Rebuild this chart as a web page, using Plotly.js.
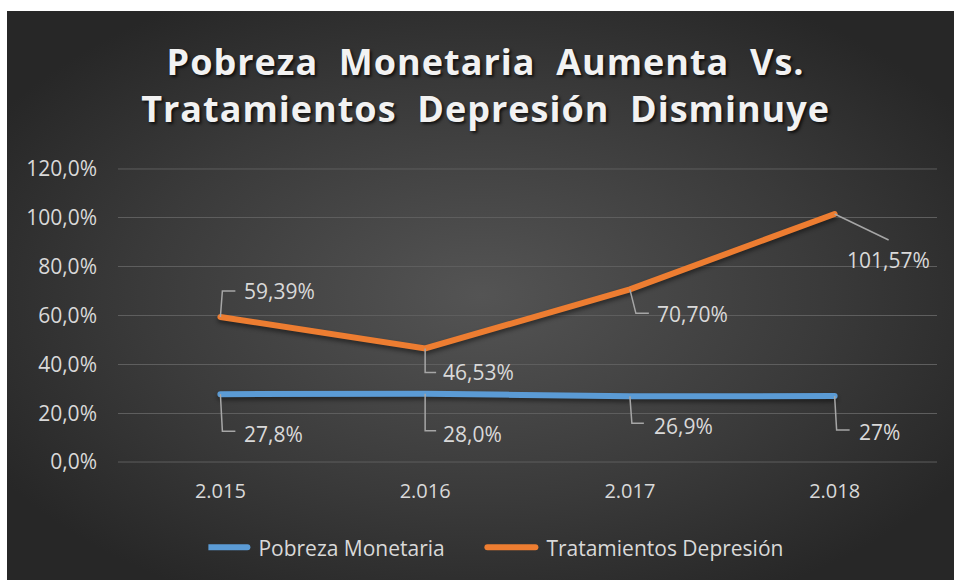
<!DOCTYPE html>
<html>
<head>
<meta charset="utf-8">
<script src="https://cdn.plot.ly/plotly-3.0.1.min.js"></script>
<style>
  html, body { margin: 0; padding: 0; background: #ffffff; width: 954px; height: 580px; overflow: hidden; }
  #bg { position: absolute; left: 7px; top: 11px; width: 947px; height: 569px;
        background: radial-gradient(ellipse 60% 60% at 50% 50%, #545454 0%, #3a3a3a 60%, #272727 100%); }
  #chart { position: absolute; left: 0; top: 0; width: 954px; height: 580px; }
  .gtitle { letter-spacing: 1px; }
  .scatterlayer .js-line { stroke-linecap: round; filter: drop-shadow(0px 3px 2px rgba(0,0,0,0.45)); }
  .legend .legendlines path { d: path("M-9,0H39"); stroke-linecap: round; }
</style>
</head>
<body>
<div id="bg"></div>
<div id="chart"></div>
<script>
// ---- data ----
const years = ['2.015', '2.016', '2.017', '2.018'];
const pobreza = [27.8, 28.0, 26.9, 27];
const tratamientos = [59.39, 46.53, 70.70, 101.57];
const pobrezaLabels = ['27,8%', '28,0%', '26,9%', '27%'];
const tratamientosLabels = ['59,39%', '46,53%', '70,70%', '101,57%'];
const seriesNames = ['Pobreza Monetaria', 'Tratamientos Depresión'];
const yTicks = [0, 20, 40, 60, 80, 100, 120];
const yTickLabels = ['0,0%', '20,0%', '40,0%', '60,0%', '80,0%', '100,0%', '120,0%'];

// ---- label placement (pixel offsets from each point) ----
const tratPlace = [
  {path: 'M0,0 L2,26 L15,26', xs: 22, ys: 26, anchor: 'left'},
  {path: 'M0,0 L0,-24 L11,-24', xs: 16, ys: -24, anchor: 'left'},
  {path: 'M0,0 L6,-24 L19,-24', xs: 25, ys: -25, anchor: 'left'},
  {path: 'M0,0 L54,-26', xs: 54, ys: -46, anchor: 'center'}
];
const pobPlace = [
  {path: 'M0,0 L2,-37 L15,-37', xs: 22, ys: -40, anchor: 'left'},
  {path: 'M0,0 L0,-37 L11,-37', xs: 16, ys: -40, anchor: 'left'},
  {path: 'M0,0 L2,-27 L14,-27', xs: 22, ys: -30, anchor: 'left'},
  {path: 'M0,0 L2,-34 L15,-34', xs: 22, ys: -36, anchor: 'left'}
];

const FONT = 'Open Sans, Noto Sans, sans-serif';
const TXT = '#d9d9d9';
const GRID = '#5e5e5e';

const traces = [
  {x: years, y: pobreza, name: seriesNames[0], type: 'scatter', mode: 'lines',
   line: {color: '#5b9bd5', width: 6}, hoverinfo: 'none'},
  {x: years, y: tratamientos, name: seriesNames[1], type: 'scatter', mode: 'lines',
   line: {color: '#ed7d31', width: 6}, hoverinfo: 'none'}
];

const annotations = [];
const shapes = [];
// edge gridlines (Plotly skips grid lines at the range ends)
[yTicks[0], yTicks[yTicks.length - 1]].forEach(v => {
  shapes.push({type: 'line', xref: 'paper', yref: 'y', x0: 0, x1: 1, y0: v, y1: v,
    line: {color: GRID, width: 1}, layer: 'below'});
});
function addLabels(vals, labels, place) {
  vals.forEach((v, i) => {
    const p = place[i];
    shapes.push({type: 'path', xref: 'x', yref: 'y', xsizemode: 'pixel', ysizemode: 'pixel',
      xanchor: i, yanchor: v, path: p.path, line: {color: '#a6a6a6', width: 1.5}, layer: 'above'});
    annotations.push({x: i, y: v, xref: 'x', yref: 'y', text: labels[i], showarrow: false,
      xanchor: p.anchor, yanchor: 'middle', xshift: p.xs, yshift: p.ys,
      font: {family: FONT, size: 21, color: TXT}});
  });
}
addLabels(tratamientos, tratamientosLabels, tratPlace);
addLabels(pobreza, pobrezaLabels, pobPlace);

const layout = {
  width: 954, height: 580,
  paper_bgcolor: 'rgba(0,0,0,0)', plot_bgcolor: 'rgba(0,0,0,0)',
  margin: {l: 117.5, r: 16.5, t: 168, b: 114},
  title: {
    text: 'Pobreza\u00a0 Monetaria\u00a0 Aumenta\u00a0 Vs.<br>Tratamientos\u00a0 Depresión\u00a0 Disminuye',
    x: 0.509, xanchor: 'center', y: 1 - 75 / 580, yanchor: 'middle',
    font: {family: FONT, size: 36, color: '#f2f2f2', weight: 'bold', shadow: '2px 2px 3px rgba(0,0,0,0.7)'}
  },
  xaxis: {type: 'category', range: [-0.5, 3.5], showgrid: false, zeroline: false, showline: false,
    ticks: '', ticklabelstandoff: 14, tickfont: {family: FONT, size: 20, color: TXT}, fixedrange: true},
  yaxis: {range: [-0.4, 120.4], tickmode: 'array', tickvals: yTicks, ticktext: yTickLabels,
    showgrid: true, gridcolor: GRID, gridwidth: 1, zeroline: false, showline: false,
    ticks: '', ticklabelstandoff: 20, tickfont: {family: FONT, size: 21, color: TXT}, fixedrange: true},
  showlegend: true,
  legend: {orientation: 'h', x: (208 - 117.5) / 820, xanchor: 'left', y: -0.287, yanchor: 'middle',
    font: {family: FONT, size: 21, color: TXT}, bgcolor: 'rgba(0,0,0,0)', itemwidth: 40,
    entrywidth: 233, entrywidthmode: 'pixels'},
  shapes: shapes,
  annotations: annotations
};

Plotly.newPlot('chart', traces, layout, {displayModeBar: false, staticPlot: true});
</script>
</body>
</html>
